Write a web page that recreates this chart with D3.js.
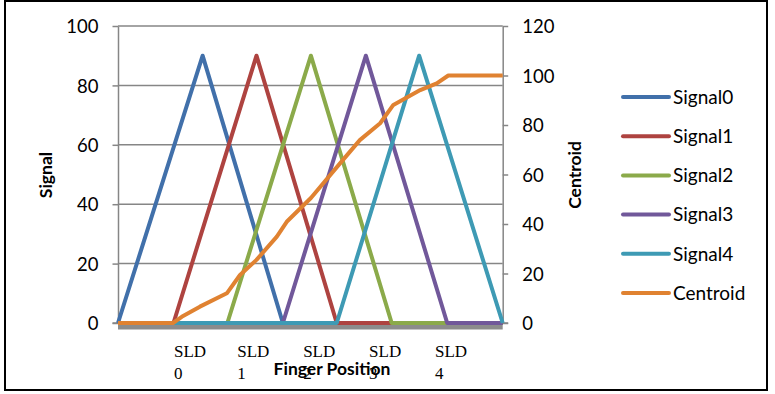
<!DOCTYPE html>
<html>
<head>
<meta charset="utf-8">
<script src="https://cdn.jsdelivr.net/npm/d3@7"></script>
<style>
	body { margin: 0; background: #fff; }
	svg text { font-family: Lato, "Open Sans", sans-serif; fill: #000; }
	.cat { font-family: "Liberation Serif", "DejaVu Serif", serif; }
</style>
</head>
<body>
<div id="chart"></div>
<script>
// finger position 0..70 (ten steps per slider pitch), breakpoints
var positionRange = [0, 70];
var signalNames = ['Signal0', 'Signal1', 'Signal2', 'Signal3', 'Signal4'];
var signal0 = [[0, 0], [15.4, 90], [30, 0], [70, 0]];
var signal1 = [[0, 0], [10.1, 0], [25.2, 90], [39.8, 0], [70, 0]];
var signal2 = [[0, 0], [19.9, 0], [35.1, 90], [49.8, 0], [70, 0]];
var signal3 = [[0, 0], [30, 0], [45.1, 90], [59.9, 0], [70, 0]];
var signal4 = [[0, 0], [39.8, 0], [54.8, 90], [70, 0]];
var centroid = [[0, 0], [10, 0], [11.6, 2.5], [14.9, 6.6], [19.8, 12], [22.2, 19.4],
	[25.2, 25.5], [28.9, 34.9], [30.7, 40.9], [35.1, 50.5], [40.4, 64.5], [44, 73.9],
	[47.7, 80.7], [50.1, 88.1], [55, 94.1], [58, 96.8], [60.1, 100], [70, 100]];
var signalTicks = [0, 20, 40, 60, 80, 100];
var centroidTicks = [0, 20, 40, 60, 80, 100, 120];
var sliderLabels = ['0', '1', '2', '3', '4'];
var sliderLabelPos = [13.1, 24.6, 36.6, 48.6, 60.6];

var colors = ['#4170AA', '#AE4340', '#8BAA4A', '#71589A', '#3E9AB4', '#E08231'];

var width = 775,
	height = 394,
	plotLeft = 118,
	plotRight = 502.7,
	plotTop = 26,
	plotBottom = 323;

var svg = d3.select('#chart')
	.append('svg')
	.attr('width', width)
	.attr('height', height);

// outer frame
svg.append('rect')
	.attr('x', 5)
	.attr('y', 1)
	.attr('width', 762)
	.attr('height', 389)
	.attr('fill', 'none')
	.attr('stroke', '#000')
	.attr('stroke-width', 2);

var x = d3.scaleLinear().domain(positionRange).range([plotLeft, plotRight]);
var ySignal = d3.scaleLinear().domain([0, 100]).range([plotBottom, plotTop]);
var yCentroid = d3.scaleLinear().domain([0, 120]).range([plotBottom, plotTop]);

// gridlines
svg.append('g')
	.selectAll('line')
	.data(signalTicks.slice(1))
	.enter()
	.append('line')
	.attr('x1', plotLeft)
	.attr('x2', plotRight)
	.attr('y1', function(d) { return ySignal(d); })
	.attr('y2', function(d) { return ySignal(d); })
	.attr('stroke', '#868686')
	.attr('stroke-width', 1.5);

// floor bar under the category axis
svg.append('rect')
	.attr('x', plotLeft)
	.attr('y', plotBottom + 1)
	.attr('width', plotRight - plotLeft)
	.attr('height', 5.5)
	.attr('fill', '#8c8c8c');

var leftAxis = svg.append('g')
	.attr('transform', 'translate(' + plotLeft + ',0)')
	.call(d3.axisLeft(ySignal).tickValues(signalTicks).tickSize(5.5).tickPadding(14).tickSizeOuter(0));

var rightAxis = svg.append('g')
	.attr('transform', 'translate(' + plotRight + ',0)')
	.call(d3.axisRight(yCentroid).tickValues(centroidTicks).tickSize(5.5).tickPadding(14).tickSizeOuter(0));

[leftAxis, rightAxis].forEach(function(ax) {
	ax.selectAll('.domain').attr('stroke', '#868686').attr('stroke-width', 1.5);
	ax.selectAll('.tick line').attr('stroke', '#868686').attr('stroke-width', 1.5);
	ax.selectAll('.tick text')
		.style('font-family', 'Lato, sans-serif')
		.style('font-size', '18.5px')
		.attr('fill', '#000')
		.attr('dy', '0.36em');
});

// zero line
svg.append('line')
	.attr('x1', plotLeft - 5.5)
	.attr('x2', plotRight + 5.5)
	.attr('y1', plotBottom)
	.attr('y2', plotBottom)
	.attr('stroke', '#868686')
	.attr('stroke-width', 1.5);

// lines
var line = d3.line()
	.x(function(d) { return x(d[0]); });

var series = [signal0, signal1, signal2, signal3, signal4];

svg.append('g')
	.selectAll('path')
	.data(series)
	.enter()
	.append('path')
	.attr('d', function(d) { return line.y(function(p) { return ySignal(p[1]); })(d); })
	.attr('fill', 'none')
	.attr('stroke', function(d, i) { return colors[i]; })
	.attr('stroke-width', 4)
	.attr('stroke-linejoin', 'round');

svg.append('path')
	.attr('d', line.y(function(p) { return yCentroid(p[1]); })(centroid))
	.attr('fill', 'none')
	.attr('stroke', colors[5])
	.attr('stroke-width', 4)
	.attr('stroke-linejoin', 'round');

// category labels
var cats = svg.append('g')
	.selectAll('text')
	.data(sliderLabels)
	.enter()
	.append('text')
	.attr('class', 'cat')
	.attr('x', function(d, i) { return x(sliderLabelPos[i]) - 16; })
	.attr('y', 357)
	.style('font-size', '17px');

cats.append('tspan').text('SLD');
cats.append('tspan')
	.attr('x', function(d, i) { return x(sliderLabelPos[i]) - 16; })
	.attr('dy', 22)
	.text(function(d) { return d; });

// axis titles
svg.append('text')
	.attr('x', 332)
	.attr('y', 375)
	.attr('text-anchor', 'middle')
	.style('font-size', '17.5px')
	.style('font-weight', 'bold')
	.text('Finger Position');

svg.append('text')
	.attr('transform', 'translate(52,175) rotate(-90)')
	.attr('text-anchor', 'middle')
	.style('font-size', '17.5px')
	.style('font-weight', 'bold')
	.text('Signal');

svg.append('text')
	.attr('transform', 'translate(581,175) rotate(-90)')
	.attr('text-anchor', 'middle')
	.style('font-size', '17.5px')
	.style('font-weight', 'bold')
	.text('Centroid');

// legend
var legend = svg.append('g')
	.selectAll('g')
	.data(signalNames.concat(['Centroid']))
	.enter()
	.append('g')
	.attr('transform', function(d, i) { return 'translate(623,' + (97 + i * 39.2) + ')'; });

legend.append('line')
	.attr('x1', 0)
	.attr('x2', 46)
	.attr('stroke', function(d, i) { return colors[i]; })
	.attr('stroke-width', 4)
	.attr('stroke-linecap', 'round');

legend.append('text')
	.attr('x', 50)
	.attr('dy', '0.36em')
	.style('font-size', '19px')
	.text(function(d) { return d; });
</script>
</body>
</html>
